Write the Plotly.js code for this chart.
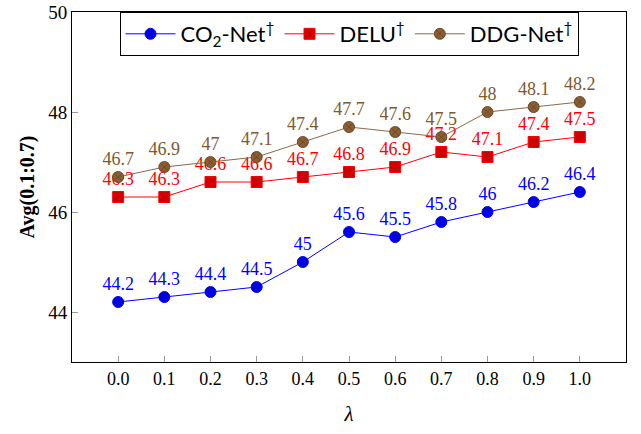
<!DOCTYPE html>
<html><head><meta charset="utf-8">
<script src="https://cdn.plot.ly/plotly-3.0.1.min.js"></script>
<style>body{margin:0;background:#fff}</style>
</head><body>
<div id="chart" style="width:641px;height:434px"></div>
<script>
const lambdas = [0.0, 0.1, 0.2, 0.3, 0.4, 0.5, 0.6, 0.7, 0.8, 0.9, 1.0];
const tickLabels = ["0.0","0.1","0.2","0.3","0.4","0.5","0.6","0.7","0.8","0.9","1.0"];
const co2Net = [44.2, 44.3, 44.4, 44.5, 45, 45.6, 45.5, 45.8, 46, 46.2, 46.4];
const delu = [46.3, 46.3, 46.6, 46.6, 46.7, 46.8, 46.9, 47.2, 47.1, 47.4, 47.5];
const ddgNet = [46.7, 46.9, 47, 47.1, 47.4, 47.7, 47.6, 47.5, 48, 48.1, 48.2];
const seriesNames = ["CO<sub>2</sub>-Net<sup>†</sup>", "DELU<sup>†</sup>", "DDG-Net<sup>†</sup>"];

const serif = "Liberation Serif";
function mk(y, name, line, mfill, mline, sym, txt) {
  return {
    x: lambdas, y: y, name: name, type: "scatter", mode: "lines+markers+text",
    line: {color: line, width: 1},
    marker: {color: mfill, size: 11, symbol: sym, line: {color: mline, width: 1}},
    text: y.map(v => String(v)), textposition: "top center",
    textfont: {family: serif, size: 18, color: txt},
    cliponaxis: false
  };
}
const data = [
  mk(co2Net, seriesNames[0], "#0000ff", "#0000e0", "#0000ff", "circle", "#0000ff"),
  mk(delu, seriesNames[1], "#ff0000", "#d00000", "#ff0000", "square", "#ff0000"),
  mk(ddgNet, seriesNames[2], "#8a6a48", "#8c5e32", "#6b4a2a", "circle-x", "#80592d")
];
const layout = {
  width: 641, height: 434,
  margin: {l: 72, r: 15, t: 12, b: 72},
  paper_bgcolor: "#fff", plot_bgcolor: "#fff",
  showlegend: true,
  legend: {orientation: "h", x: 0.5, xanchor: "center", y: 1, yanchor: "top",
    bordercolor: "#000", borderwidth: 1, bgcolor: "#fff", itemwidth: 50,
    font: {family: "Lato, sans-serif", size: 22, color: "#000"}},
  xaxis: {range: [-0.1, 1.1], tickvals: lambdas, ticktext: tickLabels,
    ticks: "inside", ticklen: 6, tickcolor: "#999", showgrid: false, zeroline: false,
    showline: true, linecolor: "#000", linewidth: 1, mirror: true,
    tickfont: {family: serif, size: 18, color: "#000"},
    title: {text: "<i>λ</i>", font: {family: serif, size: 21, color: "#000"}, standoff: 18}},
  yaxis: {range: [43, 50], tickvals: [44, 46, 48, 50],
    ticks: "inside", ticklen: 6, tickcolor: "#999", showgrid: false, zeroline: false,
    showline: true, linecolor: "#000", linewidth: 1, mirror: true,
    tickfont: {family: serif, size: 19, color: "#000"},
    title: {text: "<b>Avg(0.1:0.7)</b>", font: {family: serif, size: 20, color: "#000"}, standoff: 8}}
};
Plotly.newPlot("chart", data, layout, {displayModeBar: false, staticPlot: true});
</script>
</body></html>
